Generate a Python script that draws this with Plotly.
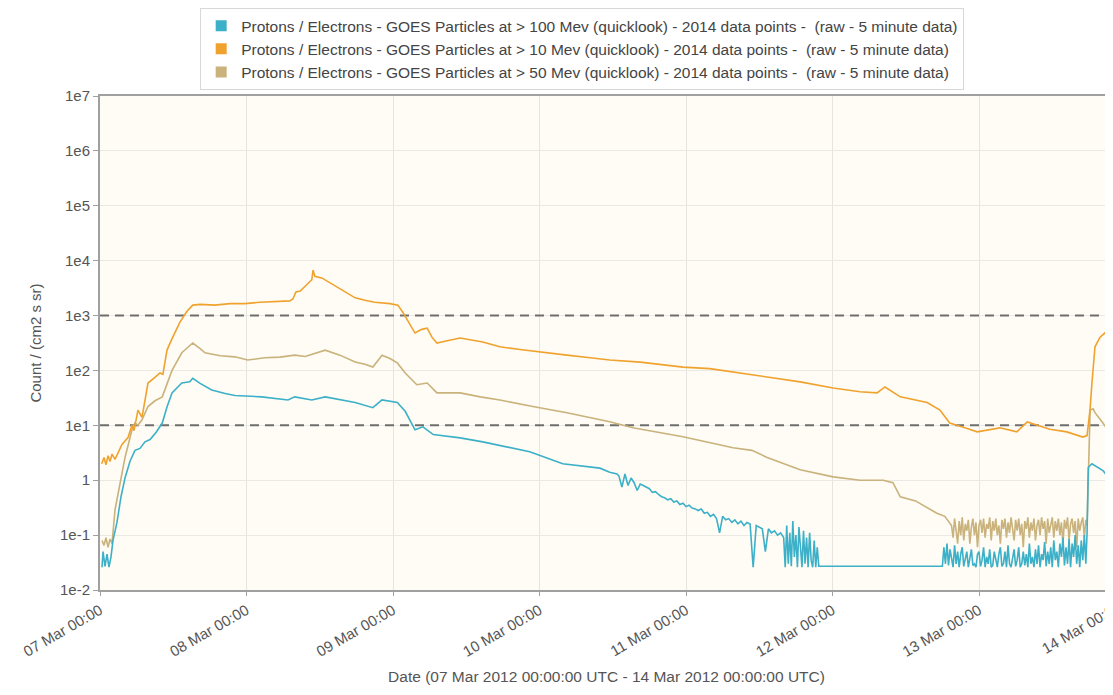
import pandas as pd
import plotly.graph_objects as go

# Données (heures depuis 07 Mar 2012 00:00 UTC)
START = pd.Timestamp('2012-03-07 00:00:00')

# > 10 MeV (orange)
p10_hours = [0.28, 0.66, 0.98, 1.31, 1.64, 1.97, 2.46, 2.95, 3.6, 4.59, 5.24, 5.57, 6.22, 6.88,
             7.86, 9.0, 9.83, 10.3, 10.98, 11.8, 13.1, 14.25, 15.2, 16.4, 18.8, 21.3, 23.75,
             26.2, 28.7, 31.1, 31.6, 32.1, 32.8, 34.1, 34.7, 34.9, 35.2, 36.4, 38.5, 40.1, 41.8,
             43.4, 45.0, 47.5, 48.8, 49.6, 50.8, 51.6, 52.7, 53.6, 54.4, 55.2, 56.5, 59.0, 62.7,
             65.5, 68.8, 72.1, 76.5, 80.3, 83.5, 88.5, 95.5, 99.9, 103.7, 109.3, 114.7, 120.1,
             124.5, 127.3, 128.6, 131.1, 135.5, 137.6, 139.2, 141.7, 143.7, 147.4, 150.2, 151.9,
             153.5, 155.6, 158.4, 161.0, 161.7, 162.2, 162.5, 163.0, 163.8, 164.6, 165.1, 165.5, 166.3]
p10_vals = [2.0, 2.6, 1.9, 2.8, 2.2, 3.0, 2.4, 3.2, 4.5, 6, 10, 8, 19, 14,
            59, 75, 90, 85, 235, 380, 760, 1200, 1550, 1600, 1550, 1650, 1650,
            1750, 1800, 1850, 2000, 2700, 2800, 3900, 4500, 6700, 5200, 4800, 3500, 2700, 2100,
            1900, 1750, 1650, 1550, 1150, 700, 480, 560, 590, 400, 315, 340, 390, 330,
            270, 240, 220, 190, 170, 155, 142, 115, 108, 93, 76, 62, 48,
            41, 39, 50, 33, 26, 19, 11, 9, 7.6, 9, 7.6, 11.5,
            10, 8.5, 7.6, 6.1, 6.5, 20, 59, 270, 400, 480, 400, 270, 300]

# > 50 MeV (beige)
p50_head_hours = [0.33, 0.66, 0.98, 1.31, 1.64, 1.97, 2.46, 3.28, 4.1, 5.24, 5.73, 6.22, 6.88, 7.86,
                  9.0, 10.2, 10.98, 11.8, 13.4, 15.2, 16.4, 17.2, 19.7, 22.1, 24.2, 27.0, 29.5,
                  31.9, 33.6, 36.9, 39.3, 41.8, 43.4, 44.7, 46.2, 47.5, 48.7, 50.0, 51.9, 53.6,
                  55.2, 59.0, 62.3, 65.5, 70.9, 76.5, 83.5, 87.3, 95.5, 103.7, 106.8, 109.3, 114.7,
                  120.1, 124.5, 128.3, 129.9, 131.1, 133.6, 135.5, 137.1, 138.4, 139.2]
p50_head_vals = [0.08, 0.065, 0.09, 0.06, 0.085, 0.07, 0.29, 0.9, 2.6, 8.3, 11, 10, 12.6, 22,
                 28, 33, 55, 100, 210, 316, 250, 210, 185, 177, 155, 170, 175,
                 190, 180, 234, 190, 142, 130, 115, 190, 165, 137, 90, 55, 59,
                 39, 39, 33, 29, 22, 17, 11.6, 9, 6.2, 3.9, 3.5, 2.6, 1.55,
                 1.15, 1.0, 1.0, 0.9, 0.5, 0.42, 0.32, 0.25, 0.22, 0.17]
p50_noise_start = 139.5
p50_noise_step = 0.25
p50_noise_vals = [0.15, 0.09, 0.2, 0.12, 0.07, 0.18, 0.1, 0.21, 0.08, 0.16,
                  0.12, 0.19, 0.07, 0.14, 0.2, 0.1, 0.17, 0.06, 0.15, 0.19,
                  0.11, 0.2, 0.09, 0.16, 0.13, 0.21, 0.08, 0.18, 0.12, 0.2,
                  0.1, 0.15, 0.07, 0.19, 0.13, 0.2, 0.09, 0.17, 0.11, 0.21,
                  0.14, 0.08, 0.19, 0.12, 0.2, 0.1, 0.16, 0.06, 0.18, 0.13,
                  0.21, 0.09, 0.17, 0.12, 0.2, 0.08, 0.15, 0.19, 0.1, 0.21,
                  0.13, 0.18, 0.07, 0.2, 0.11, 0.16, 0.21, 0.09, 0.18, 0.12,
                  0.2, 0.1, 0.17, 0.07, 0.19, 0.13, 0.21, 0.08, 0.16, 0.2,
                  0.11, 0.18, 0.06, 0.2, 0.12, 0.17, 0.21, 0.09, 0.19]
p50_tail_hours = [161.7, 161.9, 162.2, 162.7, 163.0, 164.3, 165.9]
p50_tail_vals = [0.15, 0.9, 19, 20, 17, 11, 6]

# > 100 MeV (cyan)
p100_head_hours = [0.33, 0.5, 0.82, 1.15, 1.47, 1.8, 2.13, 2.78, 3.44, 4.1, 4.9, 5.73, 6.55, 7.37,
                   8.2, 9.2, 10.2, 11.0, 11.8, 13.4, 14.7, 15.2, 16.4, 18.3, 20.5, 22.1, 26.5,
                   30.8, 31.9, 34.7, 36.9, 39.3, 41.8, 44.7, 46.2, 48.7, 50.0, 51.6, 52.9, 54.6,
                   59.0, 62.7, 67.2, 70.4, 75.8, 81.9, 83.5, 84.7]
p100_head_vals = [0.026, 0.05, 0.027, 0.045, 0.026, 0.04, 0.08, 0.17, 0.5, 1.1, 2.2, 3.5, 3.8, 5,
                  5.5, 7.5, 11, 22, 39, 59, 62, 72, 58, 44, 38, 35, 33,
                  29, 33, 29, 33, 29, 26, 21, 29, 26, 18, 8.3, 9.4, 6.8,
                  5.9, 5, 3.9, 3.3, 2.0, 1.66, 1.4, 1.3]
p100_noise1_start = 85.0
p100_noise1_step = 0.5
p100_noise1_vals = [1.2, 0.75, 1.3, 0.8, 1.1, 0.9, 0.65, 0.85, 0.8, 0.75,
                    0.7, 0.6, 0.62, 0.55, 0.5, 0.48, 0.44, 0.46, 0.4, 0.42,
                    0.36, 0.38, 0.33, 0.35, 0.31, 0.3, 0.28, 0.3, 0.25, 0.26,
                    0.22, 0.24, 0.2, 0.11, 0.22, 0.19, 0.2, 0.17, 0.19, 0.16,
                    0.18, 0.15, 0.17, 0.16, 0.026, 0.15, 0.14, 0.13, 0.05, 0.13,
                    0.11, 0.12, 0.1, 0.11]
p100_noise2_start = 112.0
p100_noise2_step = 0.25
p100_noise2_vals = [0.09, 0.026, 0.15, 0.03, 0.11, 0.027, 0.18, 0.04, 0.1, 0.026,
                    0.14, 0.05, 0.026, 0.12, 0.03, 0.09, 0.026, 0.11, 0.035, 0.026,
                    0.08, 0.026, 0.06, 0.027]
p100_gap_hours = [117.9, 138.0]
p100_gap_vals = [0.027, 0.027]
p100_noise3_start = 138.25
p100_noise3_step = 0.25
p100_noise3_vals = [0.06, 0.03, 0.07, 0.028, 0.055, 0.04, 0.026, 0.065, 0.03, 0.05,
                    0.026, 0.045, 0.06, 0.027, 0.035, 0.05, 0.026, 0.04, 0.055, 0.028,
                    0.03, 0.026, 0.045, 0.05, 0.027, 0.035, 0.06, 0.026, 0.04, 0.03,
                    0.055, 0.026, 0.028, 0.05, 0.035, 0.026, 0.045, 0.06, 0.027, 0.03,
                    0.05, 0.026, 0.065, 0.03, 0.026, 0.04, 0.055, 0.027, 0.035, 0.06,
                    0.026, 0.03, 0.05, 0.028, 0.045, 0.026, 0.07, 0.03, 0.04, 0.026,
                    0.055, 0.03, 0.065, 0.026, 0.045, 0.035, 0.075, 0.027, 0.05, 0.03,
                    0.06, 0.026, 0.08, 0.035, 0.05, 0.026, 0.07, 0.04, 0.09, 0.028,
                    0.06, 0.03, 0.085, 0.026, 0.07, 0.04, 0.1, 0.03, 0.065, 0.026,
                    0.08, 0.035, 0.1, 0.03]
p100_tail_hours = [161.7, 161.9, 162.5, 164.3, 165.9]
p100_tail_vals = [0.11, 1.7, 2.0, 1.5, 0.9]

# seuils (lignes pointillées)
thresholds = [1000, 10]

tick_vals = [1e-2, 1e-1, 1, 1e1, 1e2, 1e3, 1e4, 1e5, 1e6, 1e7]
tick_text = ['1e-2', '1e-1', '1', '1e1', '1e2', '1e3', '1e4', '1e5', '1e6', '1e7']

names = [
    'Protons / Electrons - GOES Particles at > 100 Mev (quicklook) - 2014 data points -  (raw - 5 minute data)',
    'Protons / Electrons - GOES Particles at > 10 Mev (quicklook) - 2014 data points -  (raw - 5 minute data)',
    'Protons / Electrons - GOES Particles at > 50 Mev (quicklook) - 2014 data points -  (raw - 5 minute data)',
]
colors = ['#3cb0c8', '#f0a22e', '#c9b27c']


def noise_hours(start, step, vals):
    return [start + i * step for i in range(len(vals))]


def to_time(hours):
    return START + pd.to_timedelta(hours, unit='h')


h10 = p10_hours
v10 = p10_vals
h50 = p50_head_hours + noise_hours(p50_noise_start, p50_noise_step, p50_noise_vals) + p50_tail_hours
v50 = p50_head_vals + p50_noise_vals + p50_tail_vals
h100 = (p100_head_hours + noise_hours(p100_noise1_start, p100_noise1_step, p100_noise1_vals)
        + noise_hours(p100_noise2_start, p100_noise2_step, p100_noise2_vals) + p100_gap_hours
        + noise_hours(p100_noise3_start, p100_noise3_step, p100_noise3_vals) + p100_tail_hours)
v100 = p100_head_vals + p100_noise1_vals + p100_noise2_vals + p100_gap_vals + p100_noise3_vals + p100_tail_vals

fig = go.Figure()

# lignes de seuil
for th in thresholds:
    fig.add_trace(go.Scatter(x=[START, START + pd.Timedelta(days=7)], y=[th, th], mode='lines',
                             line=dict(color='#6e6e6e', width=2, dash='9px,6px'),
                             showlegend=False, hoverinfo='skip'))

# séries (tracées beige, orange puis cyan)
for h, v, c in [(h50, v50, colors[2]), (h10, v10, colors[1]), (h100, v100, colors[0])]:
    fig.add_trace(go.Scatter(x=to_time(h), y=v, mode='lines', line=dict(color=c, width=1.6),
                             showlegend=False))

# légende avec des carrés
for n, c in zip(names, colors):
    fig.add_trace(go.Scatter(x=[None], y=[None], mode='markers', name=n,
                             marker=dict(symbol='square', size=11, color=c)))

x_end = START + pd.Timedelta(hours=165.95)

# la page ajoute une marge de 8 px autour du graphique
fig.update_layout(
    width=1105, height=677,
    margin=dict(l=92, r=0, t=88, b=95, autoexpand=False),
    paper_bgcolor='white',
    plot_bgcolor='#fefcf4',
    font=dict(family='Liberation Sans, Arial, sans-serif', color='#555'),
    legend=dict(x=0.476, xanchor='center', y=1.178, yanchor='top',
                bgcolor='white', bordercolor='#d8d8d8', borderwidth=1,
                font=dict(size=15.5, color='#444'), itemwidth=30),
    xaxis=dict(type='date', range=[START, x_end], dtick=86400000, tick0=START,
               tickformat='%d %b %H:%M', tickangle=-30, tickfont=dict(size=15, color='#555'),
               showgrid=True, gridcolor='#e6e4de', gridwidth=1,
               showline=True, linecolor='#a0a0a0', linewidth=2, mirror=True,
               ticks='outside', ticklen=4, tickcolor='#a0a0a0',
               title=dict(text='Date (07 Mar 2012 00:00:00 UTC - 14 Mar 2012 00:00:00 UTC)',
                          font=dict(size=15.5, color='#555'), standoff=18),
               zeroline=False),
    yaxis=dict(type='log', range=[-2, 7], tickvals=tick_vals, ticktext=tick_text,
               tickfont=dict(size=15, color='#555'),
               showgrid=True, gridcolor='#ebe9e3', gridwidth=1,
               showline=True, linecolor='#a0a0a0', linewidth=2,
               ticks='outside', ticklen=5, tickcolor='#a0a0a0',
               title=dict(text='Count / (cm2 s sr)', font=dict(size=15, color='#555'), standoff=15),
               zeroline=False),
)

# étiquette du 14 Mar (coupée au bord droit)
fig.add_annotation(x=1.0128, y=-0.01, xref='paper', yref='paper', text='14 Mar 00:00',
                   showarrow=False, textangle=-30, xanchor='right', yanchor='top',
                   font=dict(size=15, color='#555'))

fig.write_html("out.html")
